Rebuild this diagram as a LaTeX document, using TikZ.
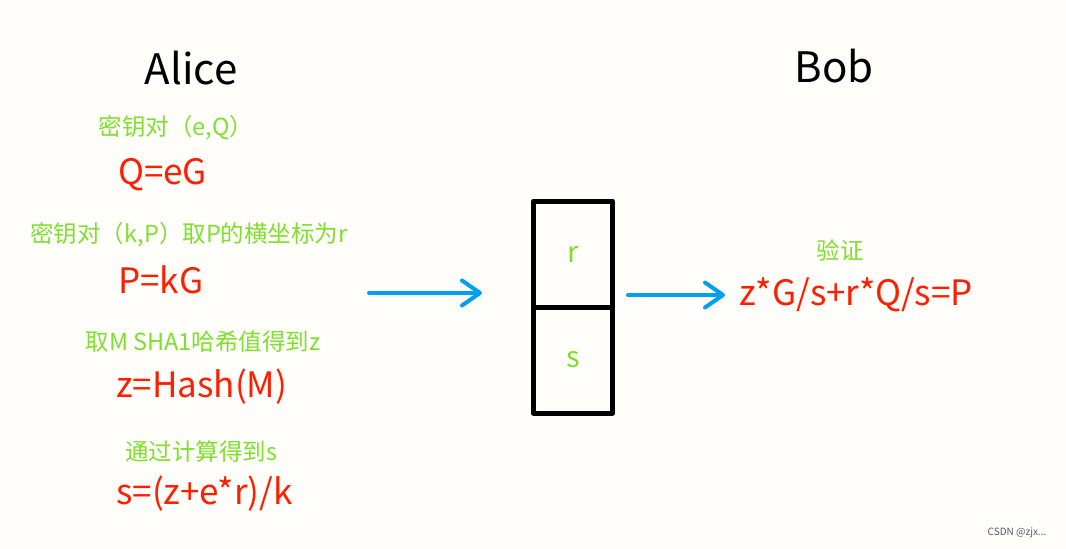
\documentclass[tikz,border=0pt]{standalone}
\usepackage{fontspec}
\setmainfont{Noto Sans CJK SC}
\usetikzlibrary{positioning,arrows.meta}
\definecolor{bgcol}{RGB}{255,254,250}
\definecolor{keygreen}{RGB}{126,224,44}
\definecolor{formred}{RGB}{255,30,0}
\definecolor{flowblue}{RGB}{0,160,240}
\begin{document}
\begin{tikzpicture}[x=1pt,y=-1pt,line cap=round,line join=round]
	\tikzset{title/.style={font=\fontsize{42}{42}\selectfont,text=black,inner sep=0pt},
		note/.style={font=\fontsize{23.5}{23.5}\selectfont,text=keygreen,inner sep=0pt},
		formula/.style={font=\fontsize{35}{35}\selectfont,text=formred,inner sep=0pt,anchor=west},
		cell/.style={draw=black,line width=5pt,minimum width=79pt,minimum height=106pt,
			outer sep=0pt,font=\fontsize{29}{29}\selectfont,text=keygreen},
		flow/.style={draw=flowblue,line width=4pt,-{Straight Barb[length=18pt,width=25pt,round]}}
	}
	\fill[bgcol] (0,0) rectangle (1066,549);
	\useasboundingbox (0,0) rectangle (1066,549);
	\node[title] (alice) at (191,68) {Alice};
	\node[title] (bob) at (834,66) {Bob};
	\node[note] (pairq) at (176,128) {密钥对（e,Q）};
	\node[formula] (qeg) at (118,175) {Q=eG};
	\node[note] (pairp) at (189,235) {密钥对（k,P）取P的横坐标为r};
	\node[formula] (pkg) at (118,280) {P=kG};
	\node[note] (hashz) at (203,342) {取M SHA1哈希值得到z};
	\node[formula] (zhash) at (116,387) {z=Hash(M)};
	\node[note] (calcs) at (201,452) {通过计算得到s};
	\node[formula] (sform) at (116,494) {s=(z+e*r)/k};
	\node[cell] (cr) at (573,254) {r};
	\node[cell,below=0pt of cr] (cs) {s};
	\node[note] (verify) at (840,250) {验证};
	\node[formula,anchor=center] (check) at (856,295) {z*G/s+r*Q/s=P};
	\coordinate (a1s) at (369,293);
	\coordinate (a1e) at (482,293);
	\coordinate (a2s) at (628,295);
	\coordinate (a2e) at (725,295);
	\draw[flow] (a1s) -- (a1e);
	\draw[flow] (a2s) -- (a2e);
	\node[font=\fontsize{10}{10}\selectfont,text=black!65,inner sep=0pt] (mark) at (1017,533) {CSDN @zjx...};
\end{tikzpicture}
\end{document}
